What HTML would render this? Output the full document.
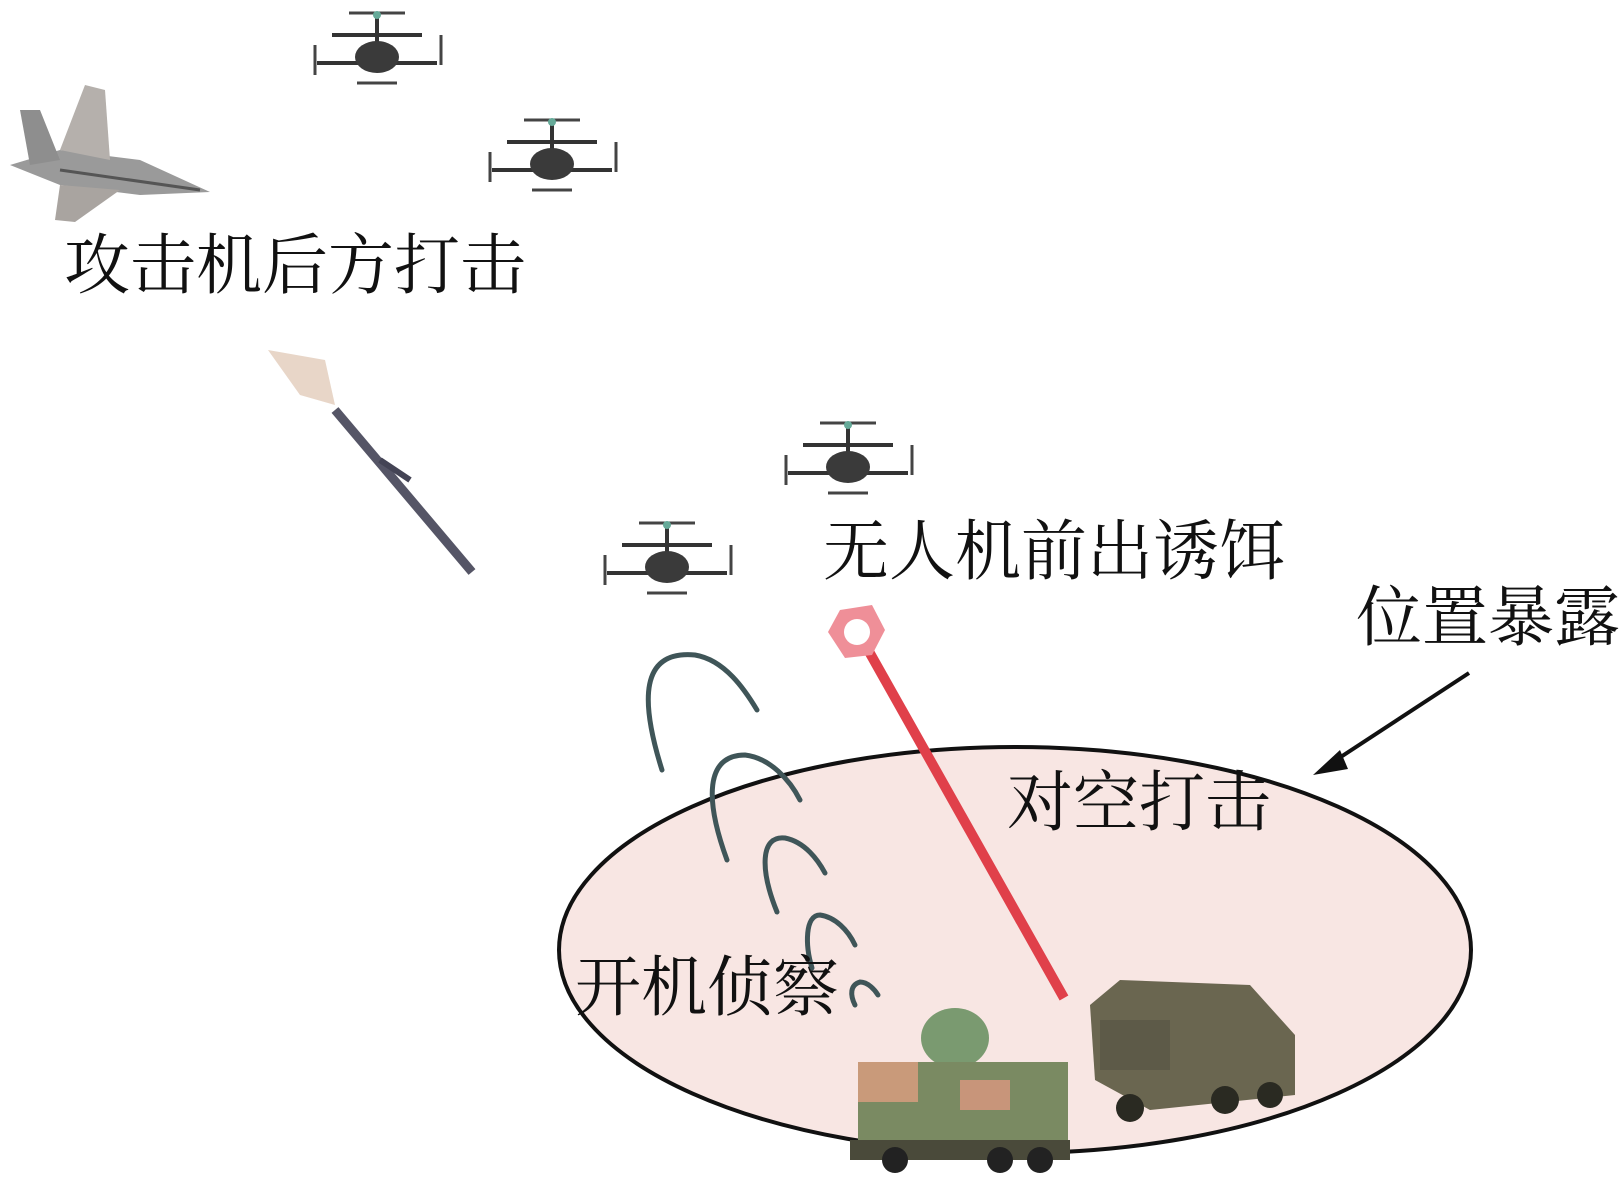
<!DOCTYPE html>
<html><head><meta charset="utf-8"><style>
html,body{margin:0;padding:0;background:#fff;}
svg{display:block}
text{font-family:"Liberation Serif","Noto Serif CJK SC","Noto Sans CJK SC",serif;fill:#111;}
</style></head><body>
<svg width="1620" height="1181" viewBox="0 0 1620 1181" xmlns="http://www.w3.org/2000/svg">
<defs>
<g id="drone">
  <line x1="-45" y1="-10" x2="45" y2="-10" stroke="#333" stroke-width="4"/>
  <line x1="0" y1="-30" x2="0" y2="10" stroke="#333" stroke-width="4"/>
  <line x1="-28" y1="-32" x2="28" y2="-32" stroke="#444" stroke-width="3"/>
  <line x1="-60" y1="18" x2="60" y2="18" stroke="#333" stroke-width="4"/>
  <line x1="-62" y1="0" x2="-62" y2="30" stroke="#444" stroke-width="3"/>
  <line x1="64" y1="-10" x2="64" y2="20" stroke="#444" stroke-width="3"/>
  <line x1="-20" y1="38" x2="20" y2="38" stroke="#444" stroke-width="3"/>
  <ellipse cx="0" cy="12" rx="22" ry="16" fill="#3a3a3a"/>
  <circle cx="0" cy="-30" r="4" fill="#6a9"/>
</g>
</defs>
<!-- ellipse -->
<ellipse cx="1015" cy="950" rx="456" ry="203" fill="#f8e6e3" stroke="#111" stroke-width="4"/>
<!-- drones -->
<use href="#drone" x="377" y="45"/>
<use href="#drone" x="552" y="152"/>
<use href="#drone" x="848" y="455"/>
<use href="#drone" x="667" y="555"/>
<!-- jet -->
<g>
  <polygon points="10,165 60,150 140,160 210,192 140,195 60,185" fill="#9a9a9a"/>
  <polygon points="60,150 85,85 105,90 110,160" fill="#b5b0ac"/>
  <polygon points="60,185 55,220 75,222 120,190" fill="#a9a4a0"/>
  <polygon points="20,110 40,110 60,160 30,165" fill="#8e8e8e"/>
  <line x1="60" y1="170" x2="200" y2="190" stroke="#555" stroke-width="3"/>
</g>
<!-- missile -->
<polygon points="268,350 325,360 335,405 300,395" fill="#e8d6c8"/>
<line x1="335" y1="410" x2="472" y2="572" stroke="#556" stroke-width="9"/>
<line x1="380" y1="460" x2="410" y2="480" stroke="#445" stroke-width="6"/>
<!-- radar arcs -->
<g fill="none" stroke="#3f5558" stroke-width="5" stroke-linecap="round">
  <path d="M662 770 C640 700 640 650 695 655 C725 660 745 690 757 710"/>
  <path d="M727 860 C705 800 705 755 745 755 C770 758 790 780 800 800"/>
  <path d="M777 912 C760 870 760 835 785 838 C805 842 818 860 825 873"/>
  <path d="M812 968 C805 945 805 915 820 915 C835 917 848 930 855 945"/>
  <path d="M855 1005 C850 995 850 985 860 982 C868 982 875 990 878 995"/>
</g>
<!-- laser -->
<line x1="858" y1="632" x2="1064" y2="998" stroke="#e0404a" stroke-width="10"/>
<polygon points="840,610 872,605 885,630 872,655 845,658 828,632" fill="#ef8f98"/>
<circle cx="857" cy="632" r="13" fill="#fff"/>
<!-- arrow -->
<line x1="1469" y1="673" x2="1330" y2="764" stroke="#111" stroke-width="4"/>
<polygon points="1313,775 1340,750 1348,769" fill="#111"/>
<!-- vehicles -->
<g>
  <ellipse cx="955" cy="1038" rx="34" ry="30" fill="#7a9a70"/>
  <rect x="858" y="1062" width="210" height="82" fill="#7a8a62"/>
  <rect x="858" y="1062" width="60" height="40" fill="#c99a7a"/>
  <rect x="960" y="1080" width="50" height="30" fill="#c8957a"/>
  <rect x="850" y="1140" width="220" height="20" fill="#4a4a3a"/>
  <circle cx="895" cy="1160" r="13" fill="#222"/>
  <circle cx="1000" cy="1160" r="13" fill="#222"/>
  <circle cx="1040" cy="1160" r="13" fill="#222"/>
</g>
<g>
  <polygon points="1090,1005 1120,980 1250,985 1295,1035 1295,1095 1150,1110 1095,1080" fill="#6a6650"/>
  <rect x="1100" y="1020" width="70" height="50" fill="#5d5a48"/>
  <circle cx="1130" cy="1108" r="14" fill="#2a2a22"/>
  <circle cx="1225" cy="1100" r="14" fill="#2a2a22"/>
  <circle cx="1270" cy="1095" r="13" fill="#2a2a22"/>
</g>
<!-- labels -->
<text x="64" y="288" font-size="66">攻击机后方打击</text>
<text x="823" y="574" font-size="66">无人机前出诱饵</text>
<text x="1356" y="640" font-size="66">位置暴露</text>
<text x="1007" y="825" font-size="66">对空打击</text>
<text x="575" y="1010" font-size="66">开机侦察</text>
</svg>
</body></html>
